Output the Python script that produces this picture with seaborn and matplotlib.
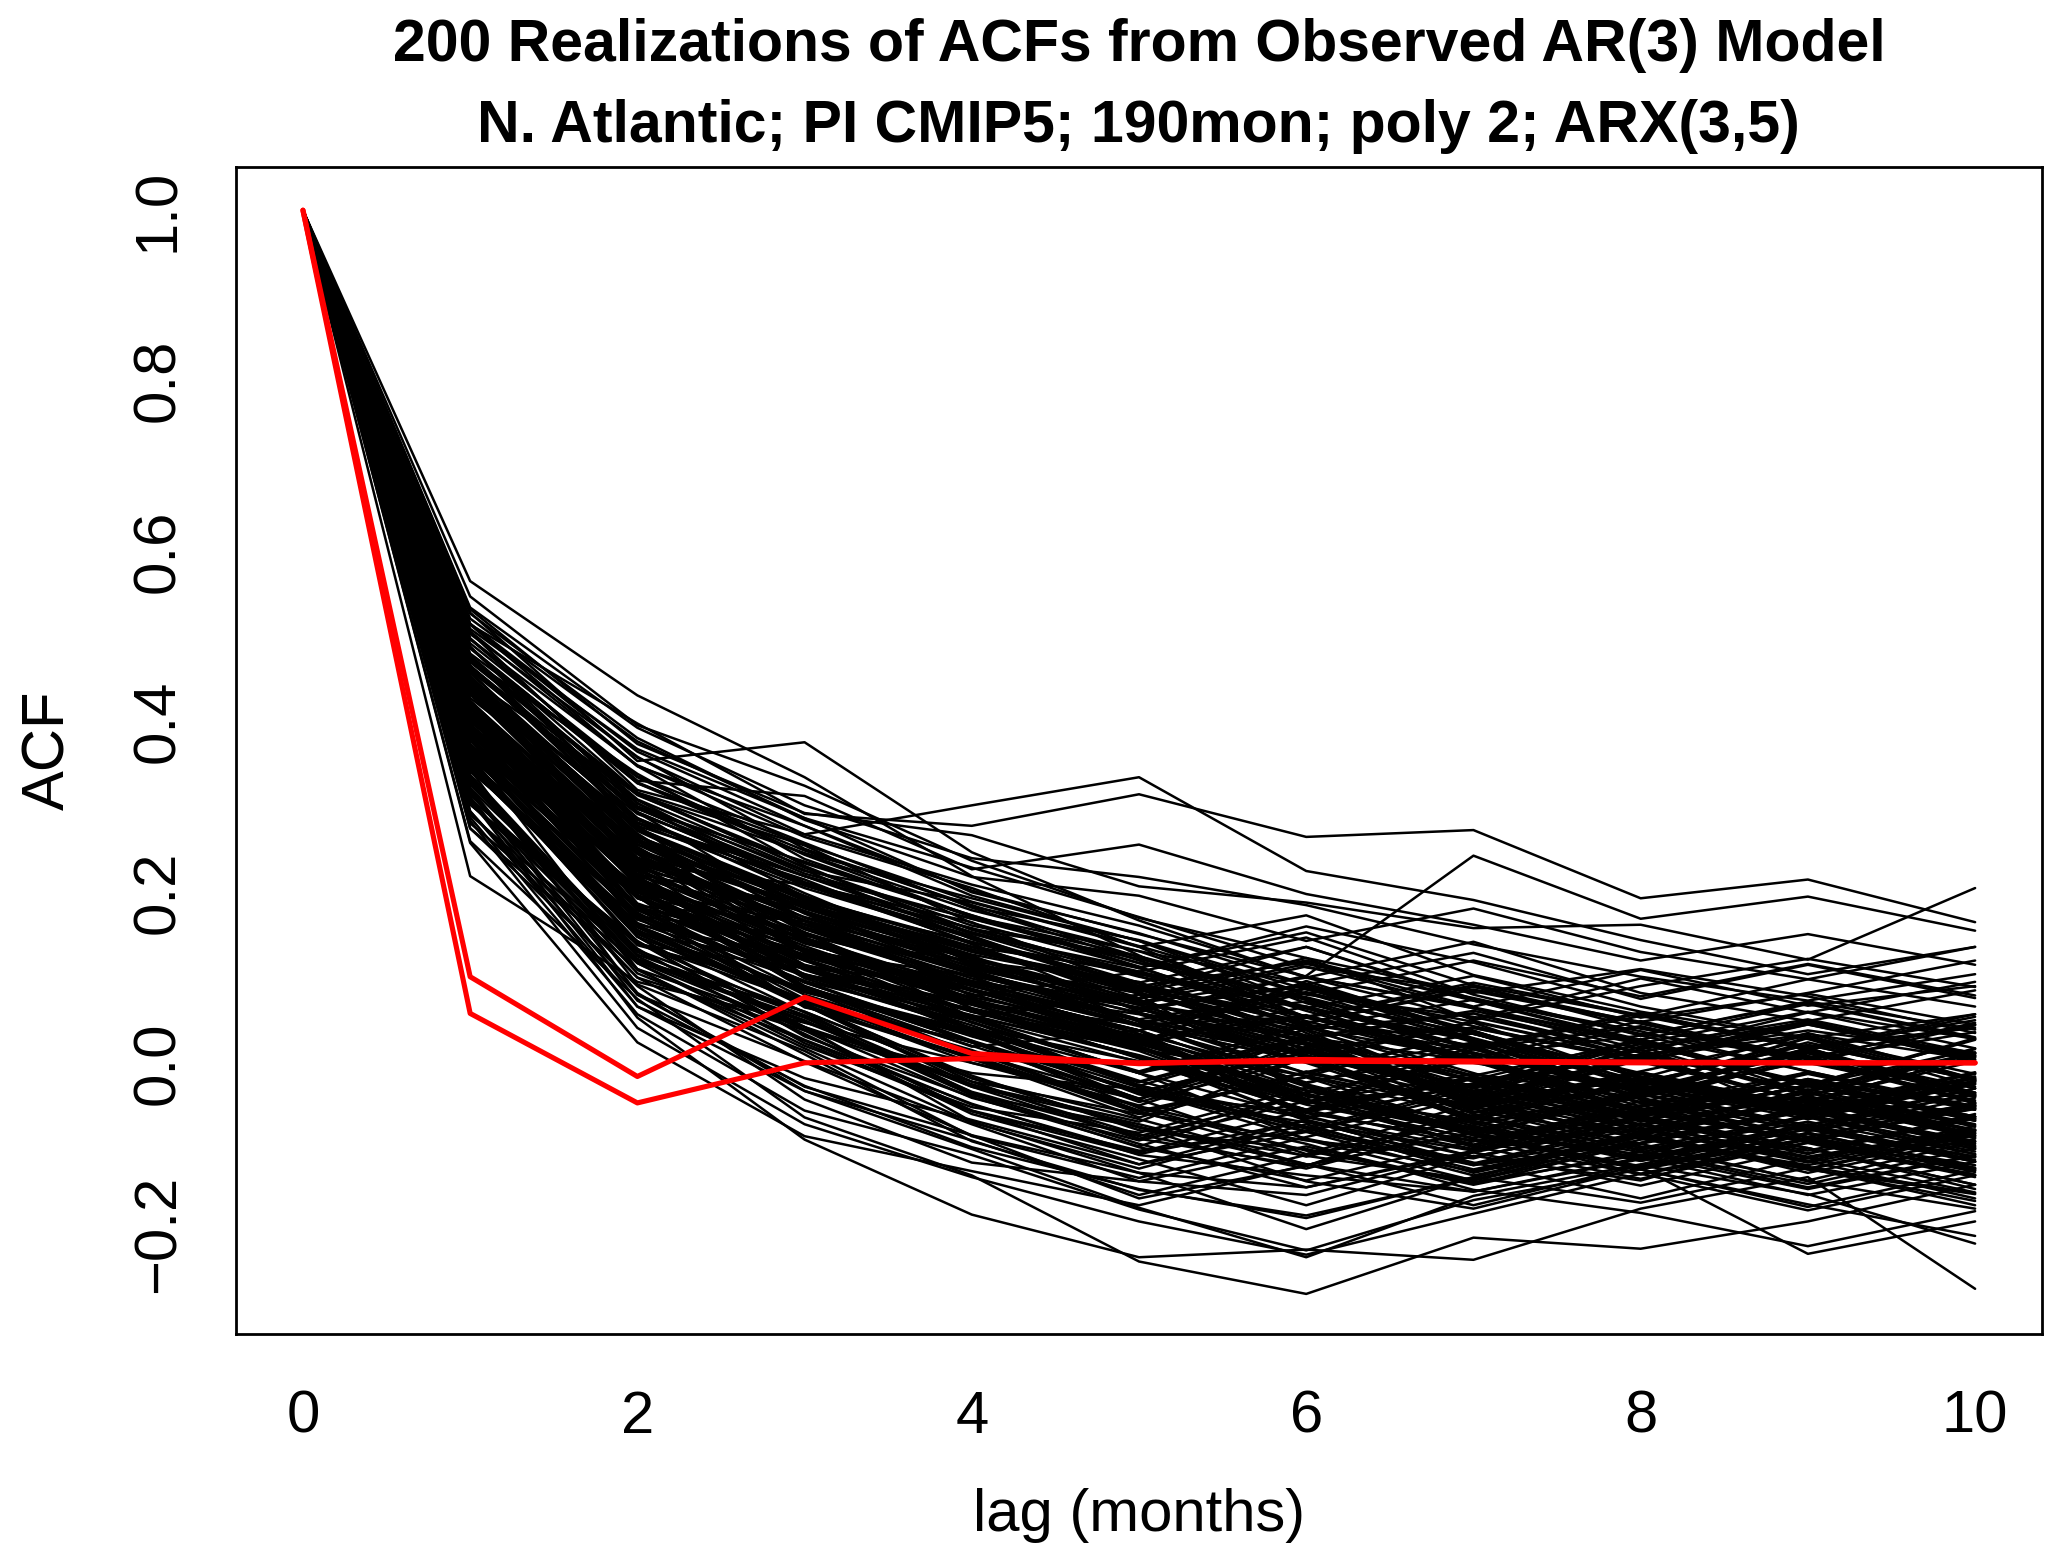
import pandas as pd
import numpy as np
import seaborn as sns
import matplotlib.pyplot as plt

# lags shown on the x axis
lags = [0, 1, 2, 3, 4, 5, 6, 7, 8, 9, 10]

# ACF of each of the 200 simulated series, one list per lag (index = realization)
lag1 = [0.419, 0.354, 0.477, 0.382, 0.295, 0.443, 0.528, 0.361, 0.406, 0.330,
        0.454, 0.397, 0.312, 0.505, 0.423, 0.378, 0.281, 0.466, 0.400, 0.349,
        0.565, 0.432, 0.365, 0.303, 0.488, 0.411, 0.386, 0.260, 0.449, 0.514,
        0.372, 0.425, 0.333, 0.478, 0.391, 0.316, 0.450, 0.409, 0.354, 0.497,
        0.275, 0.433, 0.388, 0.521, 0.366, 0.410, 0.309, 0.464, 0.397, 0.342,
        0.445, 0.322, 0.487, 0.404, 0.219, 0.370, 0.506, 0.351, 0.428, 0.293,
        0.393, 0.465, 0.342, 0.417, 0.534, 0.389, 0.310, 0.446, 0.361, 0.478,
        0.338, 0.403, 0.515, 0.372, 0.437, 0.284, 0.459, 0.390, 0.486, 0.351,
        0.421, 0.368, 0.303, 0.465, 0.402, 0.547, 0.344, 0.419, 0.380, 0.446,
        0.476, 0.391, 0.358, 0.433, 0.295, 0.412, 0.497, 0.374, 0.329, 0.450,
        0.380, 0.446, 0.411, 0.258, 0.473, 0.365, 0.402, 0.527, 0.344, 0.439,
        0.319, 0.460, 0.396, 0.421, 0.378, 0.503, 0.335, 0.402, 0.457, 0.364,
        0.434, 0.379, 0.480, 0.346, 0.411, 0.398, 0.463, 0.305, 0.422, 0.387,
        0.367, 0.514, 0.409, 0.440, 0.326, 0.471, 0.388, 0.423, 0.275, 0.452,
        0.492, 0.357, 0.424, 0.389, 0.450, 0.336, 0.411, 0.488, 0.393, 0.315,
        0.403, 0.448, 0.291, 0.466, 0.370, 0.439, 0.354, 0.397, 0.532, 0.415,
        0.348, 0.421, 0.476, 0.360, 0.509, 0.404, 0.447, 0.322, 0.385, 0.463,
        0.451, 0.306, 0.390, 0.439, 0.354, 0.487, 0.372, 0.415, 0.443, 0.288,
        0.396, 0.470, 0.439, 0.334, 0.407, 0.362, 0.515, 0.453, 0.318, 0.421,
        0.370, 0.419, 0.464, 0.397, 0.442, 0.345, 0.403, 0.498, 0.361, 0.436]
lag2 = [0.233, 0.148, 0.301, 0.196, 0.080, 0.279, 0.354, 0.207, 0.172, 0.125,
        0.268, 0.221, 0.066, 0.320, 0.219, 0.184, 0.117, 0.282, 0.245, 0.153,
        0.431, 0.256, 0.160, 0.139, 0.294, 0.207, 0.232, 0.075, 0.263, 0.398,
        0.176, 0.240, 0.109, 0.274, 0.217, 0.122, 0.315, 0.183, 0.148, 0.331,
        0.090, 0.269, 0.194, 0.377, 0.162, 0.225, 0.053, 0.298, 0.201, 0.176,
        0.259, 0.134, 0.317, 0.232, 0.095, 0.153, 0.348, 0.161, 0.276, 0.100,
        0.214, 0.287, 0.182, 0.195, 0.393, 0.228, 0.141, 0.246, 0.110, 0.309,
        0.127, 0.252, 0.365, 0.203, 0.278, 0.041, 0.266, 0.180, 0.329, 0.194,
        0.222, 0.175, 0.143, 0.308, 0.261, 0.396, 0.080, 0.219, 0.154, 0.287,
        0.315, 0.183, 0.138, 0.241, 0.066, 0.230, 0.349, 0.204, 0.117, 0.272,
        0.215, 0.292, 0.197, 0.024, 0.339, 0.170, 0.226, 0.381, 0.168, 0.253,
        0.073, 0.305, 0.232, 0.187, 0.204, 0.359, 0.120, 0.246, 0.281, 0.148,
        0.248, 0.193, 0.335, 0.152, 0.267, 0.164, 0.299, 0.100, 0.226, 0.211,
        0.161, 0.348, 0.253, 0.275, 0.132, 0.317, 0.184, 0.239, 0.110, 0.266,
        0.336, 0.151, 0.248, 0.203, 0.285, 0.092, 0.217, 0.304, 0.179, 0.120,
        0.200, 0.276, 0.121, 0.298, 0.193, 0.235, 0.142, 0.227, 0.374, 0.259,
        0.159, 0.220, 0.286, 0.171, 0.368, 0.213, 0.265, 0.082, 0.197, 0.294,
        0.274, 0.119, 0.180, 0.256, 0.141, 0.328, 0.203, 0.235, 0.262, 0.057,
        0.197, 0.314, 0.249, 0.130, 0.226, 0.161, 0.358, 0.273, 0.105, 0.212,
        0.182, 0.237, 0.294, 0.209, 0.250, 0.156, 0.211, 0.328, 0.173, 0.245]
lag3 = [0.177, 0.042, 0.225, 0.153, -0.028, 0.131, 0.376, 0.090, 0.149, 0.034,
        0.122, 0.185, -0.033, 0.268, 0.101, 0.166, 0.020, 0.219, 0.114, 0.087,
        0.335, 0.193, 0.068, 0.111, 0.176, 0.120, 0.209, -0.064, 0.157, 0.292,
        0.075, 0.162, 0.017, 0.194, 0.099, 0.050, 0.246, 0.131, 0.038, 0.313,
        -0.043, 0.145, 0.102, 0.287, 0.124, 0.089, -0.090, 0.236, 0.151, 0.068,
        0.188, 0.023, 0.255, 0.132, 0.047, 0.114, 0.239, 0.070, 0.166, 0.001,
        0.101, 0.208, 0.143, 0.065, 0.302, 0.177, 0.054, 0.129, 0.010, 0.226,
        0.056, 0.131, 0.278, 0.163, 0.215, -0.072, 0.187, 0.084, 0.249, 0.110,
        0.140, 0.096, 0.031, 0.208, 0.153, 0.325, 0.002, 0.167, 0.074, 0.199,
        0.229, 0.110, 0.086, 0.171, -0.018, 0.103, 0.265, 0.132, 0.027, 0.184,
        0.134, 0.219, 0.090, -0.086, 0.231, 0.068, 0.153, 0.285, 0.102, 0.147,
        -0.027, 0.194, 0.159, 0.120, 0.086, 0.251, 0.048, 0.183, 0.205, 0.072,
        0.162, 0.127, 0.244, 0.059, 0.170, 0.096, 0.211, 0.038, 0.143, 0.115,
        0.083, 0.278, 0.141, 0.196, 0.060, 0.229, 0.104, 0.157, 0.042, 0.175,
        0.258, 0.071, 0.186, 0.110, 0.209, 0.014, 0.137, 0.222, 0.095, 0.053,
        0.111, 0.186, 0.060, 0.219, 0.134, 0.167, 0.032, 0.145, 0.293, 0.178,
        0.066, 0.150, 0.209, 0.104, 0.287, 0.122, 0.195, -0.033, 0.088, 0.211,
        0.190, 0.039, 0.124, 0.167, 0.072, 0.245, 0.113, 0.178, 0.181, -0.056,
        0.109, 0.234, 0.157, 0.042, 0.145, 0.083, 0.268, 0.191, 0.026, 0.130,
        0.094, 0.167, 0.212, 0.125, 0.183, 0.068, 0.141, 0.256, 0.080, 0.159]
lag4 = [0.126, -0.041, 0.188, 0.053, -0.085, 0.102, 0.247, 0.024, 0.119, -0.060,
        0.040, 0.136, -0.101, 0.302, 0.063, 0.085, -0.052, 0.157, 0.034, 0.019,
        0.219, 0.140, -0.026, 0.091, 0.078, 0.053, 0.165, -0.132, 0.107, 0.278,
        0.004, 0.099, -0.070, 0.136, 0.041, -0.038, 0.193, 0.085, -0.012, 0.227,
        -0.117, 0.064, 0.039, 0.200, 0.096, 0.011, -0.178, 0.173, 0.075, -0.022,
        0.142, -0.057, 0.164, 0.069, 0.000, 0.086, 0.171, -0.018, 0.123, -0.085,
        0.053, 0.158, 0.071, 0.026, 0.240, 0.109, -0.034, 0.047, -0.092, 0.145,
        -0.028, 0.081, 0.196, 0.110, 0.139, -0.134, 0.127, 0.032, 0.185, 0.063,
        0.091, 0.026, -0.040, 0.149, 0.064, 0.237, -0.072, 0.105, 0.013, 0.118,
        0.156, 0.040, 0.009, 0.124, -0.067, 0.072, 0.205, 0.053, -0.048, 0.131,
        0.060, 0.169, 0.024, -0.127, 0.152, -0.015, 0.093, 0.218, 0.051, 0.086,
        -0.099, 0.114, 0.107, 0.052, 0.035, 0.183, -0.028, 0.131, 0.146, 0.000,
        0.104, 0.077, 0.172, -0.035, 0.113, 0.048, 0.141, -0.056, 0.080, 0.069,
        0.037, 0.202, 0.085, 0.123, -0.018, 0.161, 0.056, 0.090, -0.069, 0.104,
        0.182, 0.015, 0.133, 0.068, 0.141, -0.086, 0.070, 0.169, 0.024, -0.037,
        0.055, 0.123, -0.018, 0.151, 0.086, 0.090, -0.049, 0.074, 0.267, 0.112,
        0.005, 0.102, 0.147, 0.044, 0.229, 0.060, 0.136, -0.091, 0.038, 0.153,
        0.133, -0.025, 0.072, 0.107, 0.024, 0.179, 0.060, 0.116, 0.121, -0.108,
        0.048, 0.173, 0.095, -0.022, 0.087, 0.034, 0.209, 0.130, -0.056, 0.071,
        0.031, 0.118, 0.153, 0.075, 0.122, 0.007, 0.084, 0.189, 0.020, 0.096]
lag5 = [0.048, -0.091, 0.136, 0.080, -0.159, 0.024, 0.167, -0.032, 0.095, -0.113,
        -0.021, 0.076, -0.170, 0.335, 0.014, 0.057, -0.082, 0.125, -0.043, 0.038,
        0.126, 0.060, -0.069, 0.034, 0.107, -0.012, 0.085, -0.233, 0.058, 0.315,
        -0.050, 0.049, -0.124, 0.107, 0.002, -0.075, 0.143, 0.028, -0.031, 0.256,
        -0.139, 0.024, -0.027, 0.152, 0.065, -0.043, -0.228, 0.111, 0.016, -0.060,
        0.094, -0.107, 0.112, 0.005, -0.043, 0.038, 0.131, -0.066, 0.070, -0.129,
        0.017, 0.102, 0.045, -0.053, 0.218, 0.051, -0.086, -0.010, -0.149, 0.084,
        -0.072, 0.025, 0.143, 0.068, 0.071, -0.186, 0.090, -0.029, 0.124, 0.007,
        0.045, -0.033, -0.098, 0.081, 0.006, 0.170, -0.139, 0.064, -0.057, 0.072,
        0.105, -0.012, -0.057, 0.074, -0.119, 0.020, 0.136, 0.001, -0.108, 0.093,
        0.023, 0.125, -0.042, -0.167, 0.094, -0.079, 0.050, 0.196, -0.011, 0.038,
        -0.148, 0.063, 0.045, -0.012, -0.037, 0.144, -0.089, 0.090, 0.086, -0.051,
        0.051, 0.038, 0.113, -0.095, 0.082, -0.027, 0.104, -0.119, 0.030, 0.016,
        -0.036, 0.151, 0.028, 0.063, -0.075, 0.122, 0.007, 0.044, -0.129, 0.050,
        0.120, -0.056, 0.081, 0.018, 0.093, -0.135, 0.032, 0.117, -0.034, -0.099,
        0.009, 0.070, -0.076, 0.111, 0.038, 0.043, -0.105, 0.022, 0.207, 0.064,
        -0.064, 0.059, 0.090, -0.026, 0.171, 0.018, 0.083, -0.155, -0.022, 0.107,
        0.087, -0.084, 0.029, 0.050, -0.046, 0.131, 0.008, 0.063, 0.075, -0.172,
        -0.012, 0.117, 0.044, -0.089, 0.030, -0.036, 0.161, 0.088, -0.103, 0.025,
        -0.023, 0.068, 0.101, 0.026, 0.070, -0.059, 0.034, 0.137, -0.042, 0.045]
lag6 = [0.072, -0.045, 0.053, -0.038, -0.121, 0.096, 0.100, -0.089, 0.014, -0.167,
        -0.075, 0.123, -0.228, 0.225, -0.056, 0.000, -0.029, 0.064, -0.107, 0.082,
        0.035, 0.102, 0.007, -0.064, 0.049, -0.090, 0.136, -0.271, 0.028, 0.265,
        0.013, -0.025, -0.072, 0.147, -0.044, -0.139, 0.070, 0.056, -0.081, 0.198,
        -0.098, 0.053, -0.065, 0.092, 0.007, 0.024, -0.219, 0.160, -0.036, -0.011,
        0.021, -0.068, 0.153, -0.055, 0.032, -0.027, 0.064, -0.119, 0.100, -0.146,
        -0.046, 0.031, 0.088, -0.103, 0.185, -0.012, -0.037, 0.044, -0.179, 0.120,
        -0.120, 0.066, 0.081, 0.008, 0.113, -0.225, 0.032, -0.077, 0.054, -0.049,
        0.009, -0.080, -0.036, 0.041, -0.068, 0.123, -0.155, 0.092, -0.017, 0.024,
        0.054, 0.029, -0.110, 0.016, -0.081, -0.048, 0.173, -0.055, -0.132, 0.047,
        -0.037, 0.074, 0.019, -0.120, 0.136, -0.101, 0.008, 0.143, 0.045, -0.062,
        -0.182, 0.017, -0.024, 0.039, -0.070, 0.086, -0.121, 0.118, 0.023, -0.095,
        0.083, -0.028, 0.041, -0.146, 0.030, 0.029, 0.064, -0.067, -0.042, -0.015,
        -0.058, 0.101, -0.046, 0.090, -0.119, 0.074, -0.067, 0.002, -0.195, 0.013,
        0.061, -0.016, 0.030, -0.059, 0.044, -0.087, -0.032, 0.075, 0.013, -0.138,
        -0.046, 0.030, -0.109, 0.054, 0.087, -0.012, -0.055, -0.033, 0.188, 0.001,
        -0.010, 0.009, 0.054, -0.077, 0.112, -0.045, 0.023, -0.108, 0.031, 0.066,
        0.039, -0.124, -0.037, 0.012, 0.005, 0.093, -0.058, 0.021, 0.116, -0.220,
        -0.064, 0.077, 0.002, -0.035, -0.023, 0.018, 0.101, 0.046, -0.080, -0.039,
        0.027, 0.012, 0.065, -0.043, 0.038, -0.091, -0.016, 0.080, 0.009, 0.054]
lag7 = [0.010, -0.096, 0.091, -0.068, -0.053, 0.035, 0.142, -0.127, -0.034, -0.109,
        -0.119, 0.050, -0.156, 0.191, -0.018, -0.063, -0.085, 0.102, -0.047, 0.024,
        -0.044, 0.243, -0.070, -0.026, 0.001, -0.138, 0.073, -0.205, -0.052, 0.273,
        0.047, -0.074, -0.129, 0.080, -0.096, -0.171, 0.018, 0.003, -0.035, 0.162,
        -0.142, 0.007, -0.024, 0.129, -0.060, -0.046, -0.231, 0.118, -0.083, 0.035,
        -0.033, -0.118, 0.091, 0.016, -0.020, -0.079, 0.004, -0.167, 0.052, -0.105,
        0.008, -0.051, 0.036, -0.140, 0.139, 0.024, -0.097, -0.012, -0.135, 0.073,
        -0.081, 0.016, 0.120, -0.059, 0.064, -0.177, -0.022, -0.125, 0.003, -0.088,
        -0.066, -0.030, -0.099, 0.074, -0.117, 0.082, -0.105, 0.043, -0.078, -0.021,
        0.020, -0.049, -0.064, -0.057, -0.132, 0.005, 0.103, -0.098, -0.151, 0.086,
        -0.079, 0.034, -0.047, -0.082, 0.075, -0.143, -0.038, 0.181, 0.016, -0.110,
        -0.134, -0.047, 0.022, -0.015, -0.103, 0.048, -0.061, 0.066, -0.050, -0.149,
        0.037, -0.082, 0.005, -0.103, -0.028, 0.061, 0.026, -0.120, 0.019, -0.054,
        -0.092, 0.065, -0.013, 0.038, -0.151, 0.016, -0.110, 0.049, -0.134, -0.037,
        0.005, -0.063, 0.058, -0.091, -0.036, -0.040, -0.079, 0.034, -0.027, -0.092,
        -0.025, 0.002, -0.137, 0.094, 0.029, -0.050, -0.016, -0.071, 0.158, -0.043,
        -0.053, -0.035, 0.012, -0.027, 0.084, -0.089, -0.040, -0.066, 0.041, 0.018,
        0.058, -0.073, -0.085, -0.042, -0.067, 0.034, -0.019, -0.030, 0.076, -0.161,
        -0.101, 0.028, -0.053, 0.005, 0.012, -0.037, 0.064, 0.089, -0.120, -0.076,
        -0.016, 0.041, 0.028, -0.083, -0.045, -0.112, 0.037, 0.054, -0.069, 0.000]
lag8 = [-0.031, -0.056, 0.040, -0.109, 0.004, -0.027, 0.082, -0.085, 0.023, -0.138,
        -0.076, 0.090, -0.119, 0.144, -0.057, -0.012, -0.125, 0.053, 0.008, -0.041,
        0.010, 0.169, -0.034, -0.067, 0.042, -0.095, 0.023, -0.218, -0.081, 0.193,
        -0.019, -0.114, -0.087, 0.032, -0.045, -0.123, 0.058, -0.051, 0.016, 0.120,
        -0.094, -0.047, 0.022, 0.075, -0.103, 0.008, -0.171, 0.066, -0.130, -0.029,
        -0.067, -0.072, 0.055, -0.033, 0.028, -0.111, -0.046, -0.120, 0.099, -0.144,
        0.032, -0.095, -0.023, -0.108, 0.101, -0.036, -0.050, -0.069, -0.084, 0.027,
        -0.125, 0.043, 0.078, -0.011, 0.016, -0.130, -0.079, -0.084, -0.047, -0.032,
        -0.025, -0.072, -0.057, 0.034, -0.159, 0.110, -0.066, 0.001, -0.108, -0.063,
        -0.043, 0.005, -0.102, -0.087, -0.094, -0.059, 0.060, -0.136, -0.111, 0.048,
        -0.038, -0.013, -0.085, -0.122, 0.037, -0.104, 0.019, 0.130, -0.036, -0.071,
        -0.081, -0.098, -0.023, 0.025, -0.062, 0.007, -0.114, 0.109, -0.010, -0.176,
        -0.016, -0.031, -0.068, -0.073, 0.015, 0.022, -0.037, -0.094, 0.059, -0.100,
        -0.050, 0.026, -0.041, -0.028, -0.113, 0.055, -0.072, 0.007, -0.164, 0.019,
        0.049, -0.020, 0.006, -0.131, -0.078, -0.083, -0.035, -0.012, 0.027, -0.054,
        -0.064, -0.059, -0.090, 0.056, -0.021, -0.018, -0.053, -0.115, 0.162, 0.007,
        -0.017, -0.074, -0.039, 0.010, 0.046, -0.121, 0.008, -0.023, 0.005, -0.042,
        0.012, -0.037, -0.124, -0.089, -0.020, -0.016, -0.061, 0.028, 0.033, -0.125,
        -0.063, -0.028, -0.011, -0.056, -0.030, -0.079, 0.024, 0.047, -0.082, -0.115,
        -0.058, 0.001, -0.026, -0.040, -0.089, -0.064, -0.017, 0.012, -0.105, -0.033]
lag9 = [0.015, -0.093, 0.008, -0.061, -0.046, 0.030, 0.049, -0.124, -0.027, -0.082,
        -0.115, 0.122, -0.077, 0.104, -0.019, -0.050, -0.166, 0.081, 0.038, 0.003,
        -0.033, 0.195, 0.012, -0.107, 0.004, -0.139, 0.060, -0.186, -0.041, 0.215,
        -0.058, -0.073, -0.125, 0.072, -0.087, -0.224, 0.019, -0.020, -0.066, 0.151,
        -0.051, -0.088, -0.023, 0.115, -0.142, 0.047, -0.134, 0.029, -0.090, -0.066,
        -0.026, -0.111, 0.098, 0.013, -0.035, -0.072, -0.087, -0.154, 0.059, -0.100,
        -0.010, -0.056, 0.021, -0.148, 0.073, 0.015, -0.092, -0.027, -0.124, 0.069,
        -0.089, 0.000, 0.116, -0.051, 0.048, -0.173, -0.035, -0.122, 0.007, -0.074,
        0.024, -0.039, -0.090, 0.006, -0.111, 0.078, -0.103, -0.045, -0.062, -0.027,
        -0.087, 0.034, -0.069, -0.120, -0.056, -0.011, 0.028, -0.093, -0.155, 0.082,
        0.002, -0.057, -0.044, -0.089, -0.010, -0.146, 0.051, 0.098, -0.073, -0.115,
        -0.043, -0.138, -0.061, -0.026, -0.100, 0.049, -0.074, 0.067, 0.032, -0.215,
        -0.058, 0.011, -0.026, -0.110, -0.039, -0.024, -0.077, -0.052, 0.015, -0.063,
        -0.011, -0.026, -0.080, 0.029, -0.074, 0.017, -0.112, 0.045, -0.123, -0.038,
        0.006, -0.060, 0.049, -0.094, -0.117, -0.042, 0.015, -0.053, -0.028, -0.091,
        -0.100, -0.019, -0.054, 0.017, -0.062, 0.035, -0.093, -0.078, 0.121, -0.046,
        -0.059, -0.034, 0.017, -0.032, 0.005, -0.083, -0.048, 0.021, -0.046, -0.080,
        -0.034, 0.017, -0.082, -0.125, -0.063, -0.058, -0.021, -0.026, 0.070, -0.169,
        -0.027, -0.062, -0.055, -0.013, -0.078, -0.031, -0.026, 0.000, -0.129, -0.074,
        -0.092, 0.045, -0.063, 0.008, -0.041, -0.106, -0.050, 0.059, -0.064, 0.017]
lag10 = [-0.039, -0.050, -0.046, -0.101, 0.008, -0.013, 0.085, -0.162, -0.067, -0.124,
         -0.074, 0.089, -0.110, 0.136, -0.051, -0.098, -0.203, 0.045, 0.012, -0.047,
         0.017, 0.155, -0.039, -0.060, 0.036, -0.171, 0.028, -0.143, -0.085, 0.165,
         -0.092, -0.037, -0.154, 0.039, -0.120, -0.186, 0.041, -0.068, -0.023, 0.115,
         -0.013, -0.128, -0.051, 0.076, -0.100, 0.009, -0.265, 0.057, -0.132, -0.025,
         -0.068, -0.081, 0.136, -0.030, -0.079, -0.114, -0.047, -0.212, 0.095, -0.143,
         -0.051, -0.016, -0.020, -0.109, 0.104, -0.037, -0.132, -0.065, -0.083, 0.028,
         -0.126, -0.040, 0.079, -0.094, 0.007, -0.132, -0.075, -0.153, -0.038, -0.111,
         -0.020, -0.079, -0.054, -0.047, -0.152, 0.035, -0.063, -0.088, -0.101, 0.016,
         -0.049, 0.004, -0.107, -0.082, -0.095, -0.053, -0.028, -0.131, -0.116, 0.120,
         -0.044, -0.097, 0.002, -0.125, -0.053, -0.108, 0.011, 0.066, -0.030, -0.159,
         -0.087, -0.092, -0.025, -0.063, -0.148, 0.001, -0.116, 0.090, -0.019, -0.174,
         -0.012, -0.035, -0.063, -0.078, 0.011, -0.066, -0.030, -0.099, 0.054, -0.107,
         -0.055, -0.063, -0.048, -0.021, -0.116, 0.050, -0.079, 0.004, -0.167, 0.012,
         0.045, -0.022, 0.007, -0.134, -0.079, -0.080, -0.036, -0.011, 0.028, -0.053,
         -0.143, -0.055, -0.092, 0.057, -0.024, -0.019, -0.050, -0.116, 0.205, 0.008,
         -0.018, -0.073, -0.035, 0.012, 0.047, -0.124, 0.009, -0.020, -0.086, -0.041,
         0.011, -0.038, -0.123, -0.085, -0.022, -0.017, -0.064, 0.029, 0.030, -0.126,
         -0.066, -0.021, -0.018, -0.053, -0.035, -0.072, 0.027, 0.044, -0.089, -0.110,
         -0.050, 0.006, -0.021, -0.048, -0.083, -0.065, -0.012, 0.017, -0.104, -0.039]

# the two red curves
obs_acf = [1.0, 0.101, -0.016, 0.077, 0.011, -0.001, 0.004, 0.002, 0.001, 0.0, 0.0]
model_acf = [1.0, 0.058, -0.047, 0.000, 0.005, 0.000, 0.002, 0.001, 0.000, 0.0, 0.0]

yticks = [-0.2, 0.0, 0.2, 0.4, 0.6, 0.8, 1.0]
ytick_labels = ["\u22120.2", "0.0", "0.2", "0.4", "0.6", "0.8", "1.0"]
xticks = [0, 2, 4, 6, 8, 10]

# long form table for seaborn
per_lag = [lag1, lag2, lag3, lag4, lag5, lag6, lag7, lag8, lag9, lag10]
recs = []
for r in range(len(lag1)):
    recs.append((r, lags[0], 1.0))  # acf at lag 0 is 1 by definition
    for k, col in enumerate(per_lag):
        recs.append((r, lags[k + 1], col[r]))
df = pd.DataFrame(recs, columns=["run", "lag", "acf"])

red_recs = []
for name, vals in [("obs", obs_acf), ("model", model_acf)]:
    for l, v in zip(lags, vals):
        red_recs.append((name, l, v))
df_red = pd.DataFrame(red_recs, columns=["curve", "lag", "acf"])

sns.set_style("white")
plt.rcParams["font.family"] = ["Liberation Sans", "DejaVu Sans"]
plt.rcParams["text.color"] = "black"
plt.rcParams["axes.labelcolor"] = "black"
plt.rcParams["xtick.color"] = "black"
plt.rcParams["ytick.color"] = "black"

fig = plt.figure(figsize=(20.67, 15.67), dpi=100)
ax = fig.add_axes([0.1142, 0.1487, 0.8737, 0.7449])

sns.lineplot(data=df, x="lag", y="acf", units="run", estimator=None,
             color="black", lw=1.8, ax=ax, legend=False)
sns.lineplot(data=df_red, x="lag", y="acf", units="curve", estimator=None,
             color="#ff0000", lw=3.7, ax=ax, legend=False)

ax.set_xlim(-0.4, 10.4)
ax.set_ylim(-0.318, 1.051)
ax.set_xticks(xticks)
ax.set_xticklabels([str(t) for t in xticks])
ax.set_yticks(yticks)
ax.set_yticklabels(ytick_labels, rotation=90, va="center")
ax.tick_params(axis="both", direction="out", length=20, width=1.5,
               labelsize=43, color="black", labelcolor="black")
ax.tick_params(axis="x", pad=20)
ax.tick_params(axis="y", pad=16)
for s in ax.spines.values():
    s.set_visible(True)
    s.set_color("black")
    s.set_linewidth(2)

ax.set_xlabel("")
ax.set_ylabel("")
fig.text(0.551, 0.033, "lag (months)", ha="center", va="center", fontsize=43)
fig.text(0.0237, 0.521, "ACF", ha="center", va="center", rotation=90, fontsize=43)
fig.text(0.551, 0.971, "200 Realizations of ACFs from Observed AR(3) Model",
         ha="center", va="center", fontsize=42.5, fontweight="bold")
fig.text(0.551, 0.919, "N. Atlantic; PI CMIP5; 190mon; poly 2; ARX(3,5)",
         ha="center", va="center", fontsize=42.5, fontweight="bold")

fig.savefig("out.png", dpi=100)
